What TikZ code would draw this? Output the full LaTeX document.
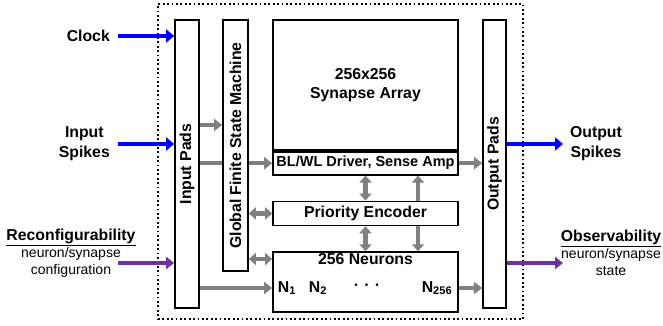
\documentclass[tikz,border=0pt]{standalone}
\usepackage{fontspec}
\setmainfont{Liberation Sans}
\usepackage{graphicx}
\usepackage{tikz}
\usetikzlibrary{arrows.meta, positioning, backgrounds}
\definecolor{sigblue}{RGB}{0,0,255}
\definecolor{cfgpurple}{RGB}{112,48,160}
\definecolor{busgray}{RGB}{128,128,128}
\tikzset{
  blk/.style={rectangle, draw=black, line width=1.7pt, fill=white,
              inner sep=0pt, align=center,
              font=\bfseries\fontsize{15.8}{19}\selectfont},
  frame/.style={rectangle, draw=black, line width=1.8pt,
                dash pattern=on 1.8pt off 2.6pt, inner sep=0pt},
  sigarr/.style={-{Triangle[length=8pt, width=13pt]}, line width=4.6pt, sigblue},
  cfgarr/.style={-{Triangle[length=8pt, width=12pt]}, line width=4.2pt, cfgpurple},
  busarr/.style={-{Triangle[length=8pt, width=12pt]}, line width=4.4pt, busgray},
  busbi/.style={{Triangle[length=7pt, width=12pt]}-{Triangle[length=7pt, width=12pt]},
                line width=4.4pt, busgray},
}

\begin{document}
\begin{tikzpicture}[
    x=1pt, y=-1pt,
    txt/.style={font=\bfseries\fontsize{15.8}{20}\selectfont, align=center,
                inner sep=1pt},
    note/.style={font=\fontsize{14}{17}\selectfont, align=center, inner sep=0pt},
  ]
  \useasboundingbox (0,0) rectangle (663,326);

  \node[frame, minimum width=365pt, minimum height=315pt] (chip) at (340.5,161.5) {};

  % chip blocks
  \node[blk, minimum width=24pt, minimum height=288pt]  (inpads)  at (187,164)     {\rotatebox{90}{Input Pads}};
  \node[blk, minimum width=25pt, minimum height=251pt]  (gfsm)    at (235.5,145.5) {\rotatebox{90}{Global Finite State Machine}};
  \node[blk, minimum width=185pt, minimum height=130pt] (synarr)  at (365.5,85)    {256x256\\Synapse Array};
  \node[blk, minimum width=185pt, minimum height=23pt, below=0pt of synarr,
        font=\bfseries\fontsize{14.5}{17}\selectfont] (driver) {BL/WL Driver, Sense Amp};
  \node[blk, minimum width=185pt, minimum height=24pt, below=25pt of driver] (prienc) {Priority Encoder};
  \node[blk, minimum width=185pt, minimum height=60pt, below=25pt of prienc] (neurons) {};
  \node[blk, minimum width=23pt, minimum height=288pt]  (outpads) at (494.5,164)   {\rotatebox{90}{Output Pads}};

  \node[txt] (nlbl)  at (365.5,259) {256 Neurons};
  \node[txt] (n1)    at (287,288)   {N\textsubscript{1}};
  \node[txt] (n2)    at (318,288)   {N\textsubscript{2}};
  \node[txt] (ndots) at (367,287)   {·\,\,·\,\,·};
  \node[txt] (nlast) at (437,288)   {N\textsubscript{256}};

  % rows and free ends
  \coordinate (ya)  at (0,125);
  \coordinate (clk) at (118,36);
  \coordinate (spk) at (118,144);
  \coordinate (cfg) at (118,263);
  \coordinate (spo) at (563,144);
  \coordinate (obs) at (563,263);
  \coordinate (cr)  at (418,0);

  % inputs
  \node[txt, left=7pt of clk] (clklbl) {Clock};
  \node[txt, left=7pt of spk] (spklbl) {Input\\Spikes};
  \node[note] (cfgnote) at (71,253)
    {{\bfseries\fontsize{15.8}{17}\selectfont\underline{Reconfigurability}}\\neuron/synapse\\configuration};
  \draw[sigarr] (clk) -- (inpads.west |- clk);
  \draw[sigarr] (spk) -- (inpads.west |- spk);
  \draw[cfgarr] (cfg) -- (inpads.west |- cfg);

  % outputs
  \node[txt] (spolbl) at (596,144) {Output\\Spikes};
  \node[note] (obsnote) at (611,253)
    {{\bfseries\fontsize{15.8}{17}\selectfont\underline{Observability}}\\neuron/synapse\\state};
  \draw[sigarr] (outpads.east |- spo) -- (spo);
  \draw[cfgarr] (outpads.east |- obs) -- (obs);

  % internal buses
  \draw[busarr] (inpads.east |- ya) -- (gfsm.west |- ya);
  \draw[busarr] (inpads.east |- n1) -- (neurons.west |- n1);
  \draw[busbi]  (gfsm.east |- prienc.west) -- (prienc.west);
  \draw[busbi]  (gfsm.east |- nlbl) -- (neurons.west |- nlbl);
  \draw[busbi]  (driver.south) -- (prienc.north);
  \draw[busbi]  (prienc.south) -- (neurons.north);
  \draw[busarr] (driver.east) -- (outpads.west |- driver.east);
  \draw[busarr] (neurons.east |- n1) -- (outpads.west |- n1);
  \begin{scope}[on background layer]
    \draw[busarr] (inpads.east |- driver.west) -- (driver.west);
    \draw[busbi]  (driver.south -| cr) -- (neurons.north -| cr);
  \end{scope}
\end{tikzpicture}
\end{document}
